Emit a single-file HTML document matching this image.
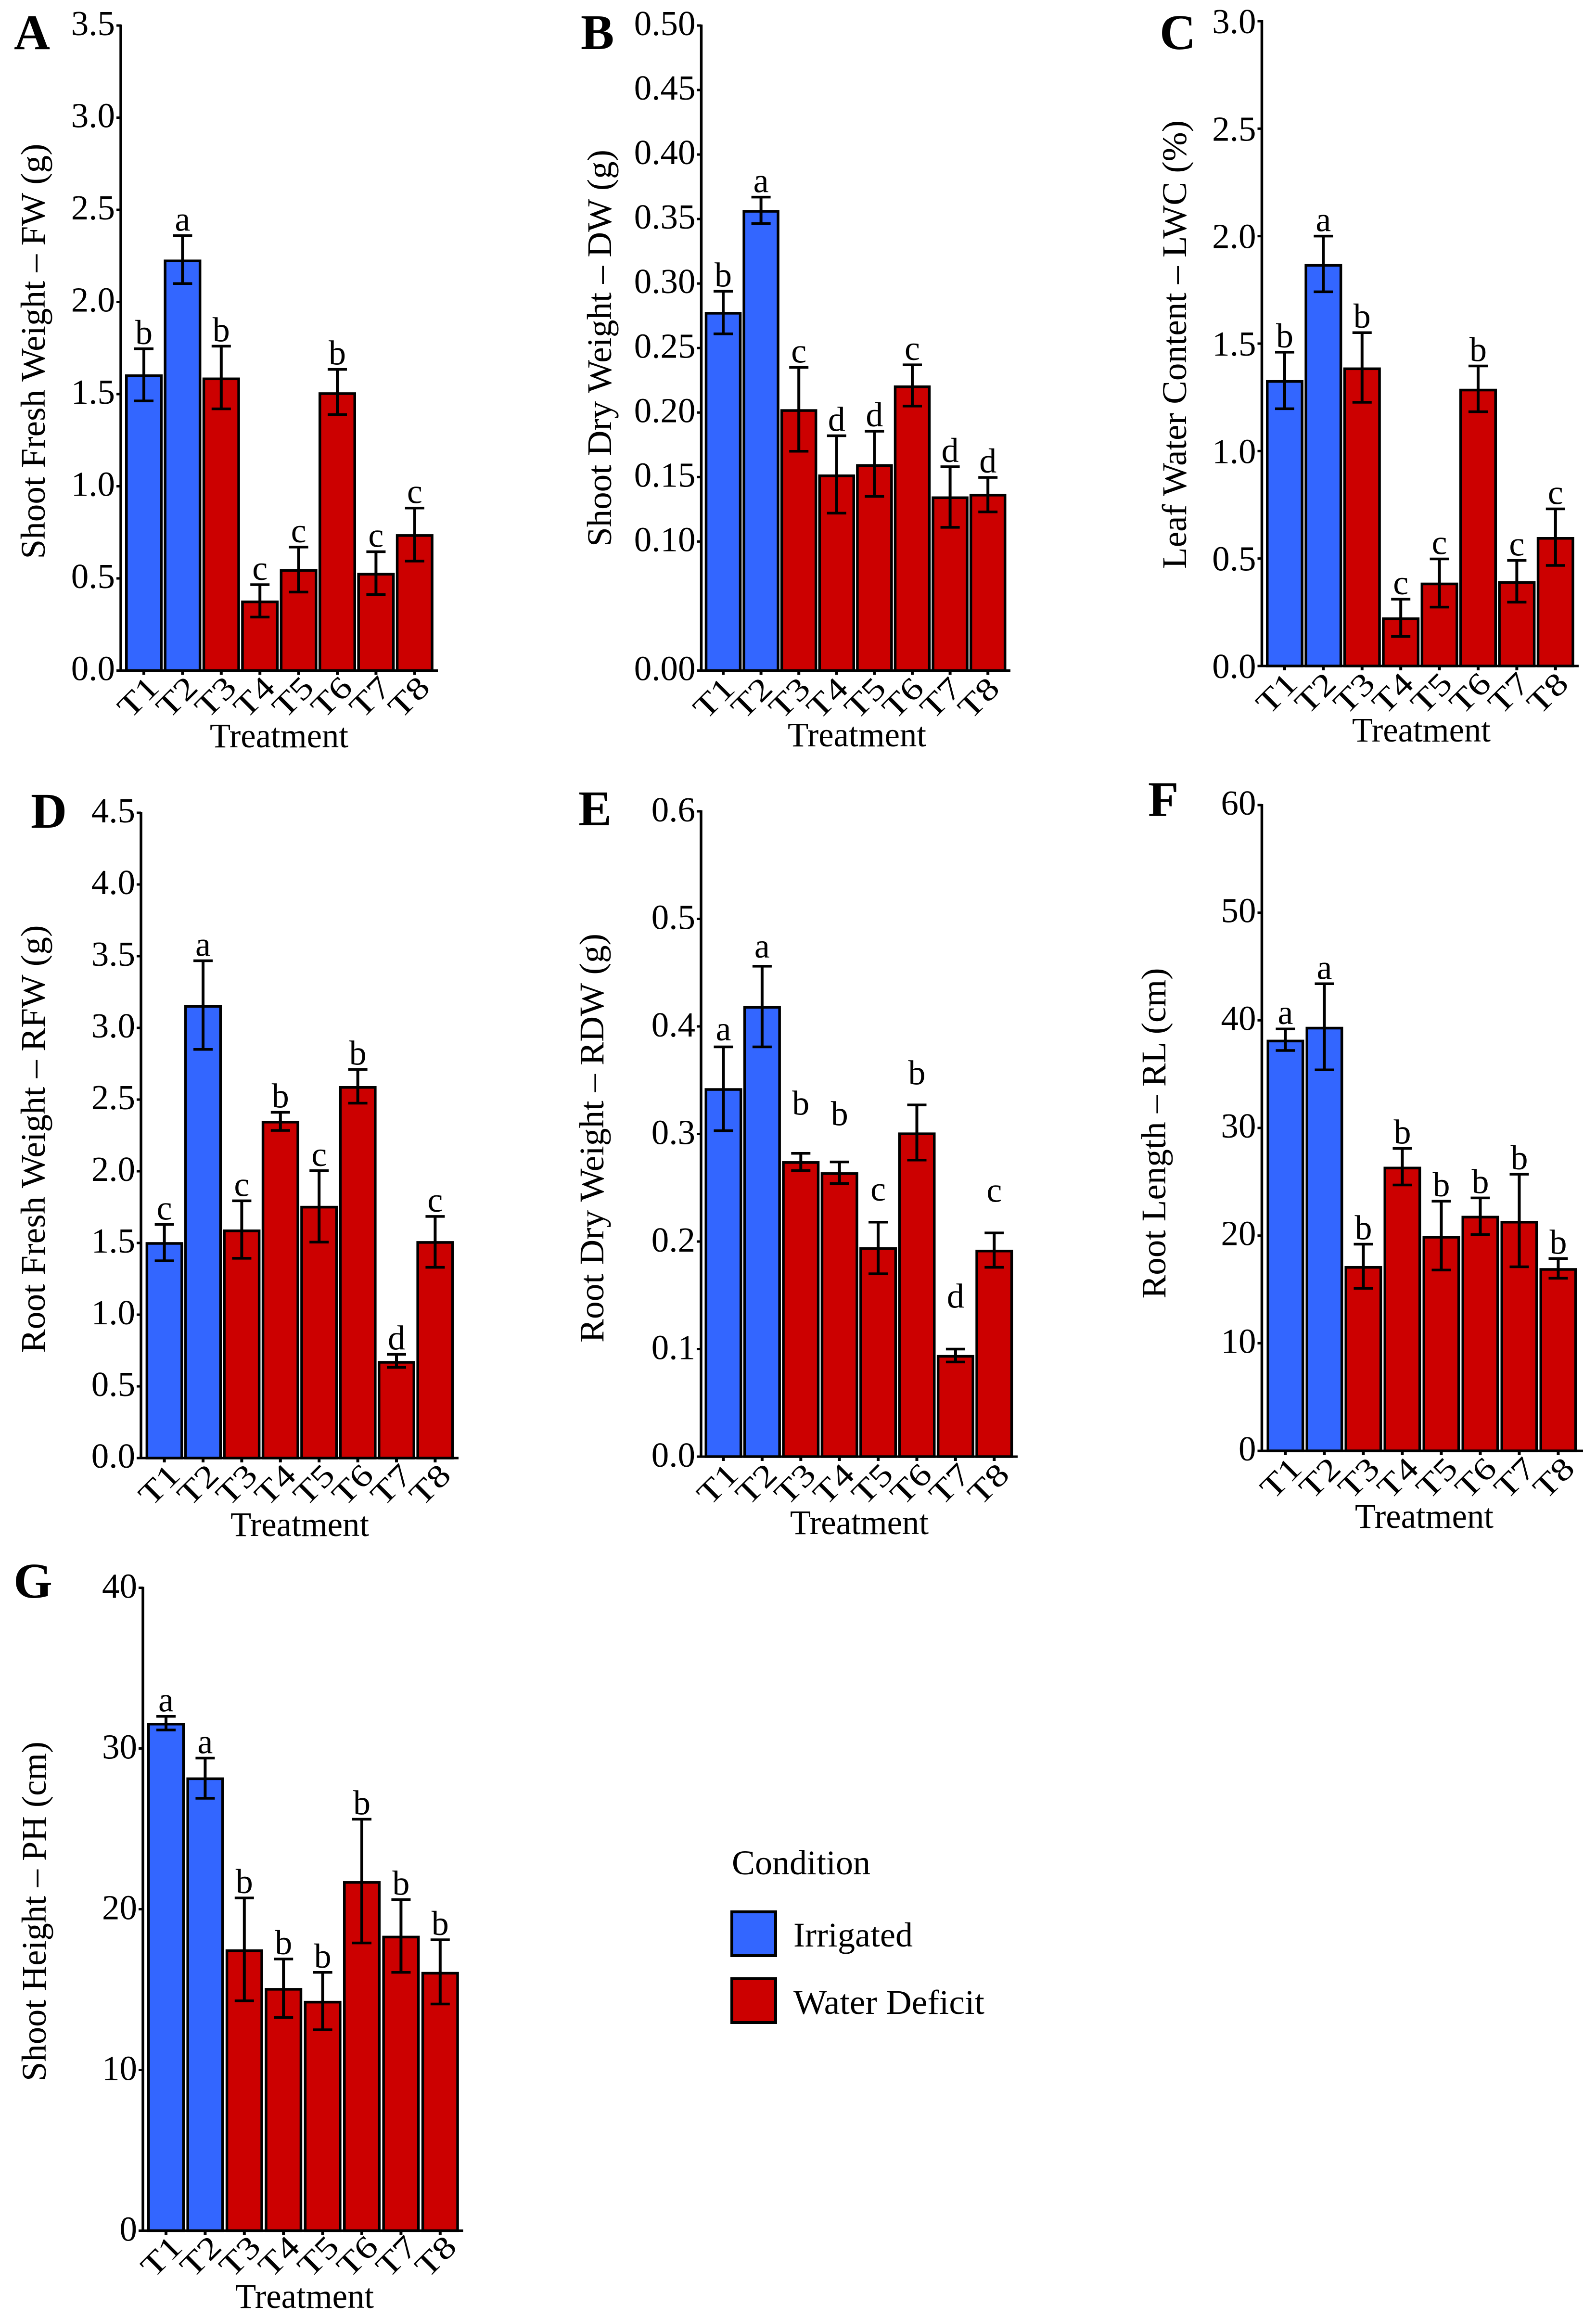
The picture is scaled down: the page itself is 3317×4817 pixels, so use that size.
<!DOCTYPE html>
<html lang="en">
<head>
<meta charset="utf-8">
<title>Treatment effects on plant traits</title>
<style>
html,body{margin:0;padding:0;background:#fff;}
svg{display:block;}
text{font-family:"Liberation Serif","Times New Roman",serif;fill:#000;}
</style>
</head>
<body>
<svg id="figure" xmlns="http://www.w3.org/2000/svg" width="3317" height="4817" viewBox="0 0 3317 4817">
<rect x="0" y="0" width="3317" height="4817" fill="#ffffff"/>
<g>
<text x="1521" y="3895" font-size="72" textLength="288" lengthAdjust="spacingAndGlyphs">Condition</text>
<rect x="1521" y="3973" width="91" height="91" fill="#3366FF" stroke="#000" stroke-width="6"/>
<text x="1649" y="4045" font-size="72" textLength="248" lengthAdjust="spacingAndGlyphs">Irrigated</text>
<rect x="1521" y="4112" width="91" height="91" fill="#CC0000" stroke="#000" stroke-width="6"/>
<text x="1649" y="4185" font-size="72" textLength="397" lengthAdjust="spacingAndGlyphs">Water Deficit</text>
</g>
</svg>
<script>
const categories = ["T1","T2","T3","T4","T5","T6","T7","T8"];
const conditions = ["Irrigated","Irrigated","Water Deficit","Water Deficit","Water Deficit","Water Deficit","Water Deficit","Water Deficit"];

const aMeans = [1.607,2.23,1.59,0.38,0.55,1.51,0.53,0.74];
const aUpper = [1.746,2.36,1.76,0.466,0.67,1.634,0.645,0.882];
const aLower = [1.463,2.10,1.42,0.29,0.426,1.389,0.413,0.594];
const aLetters = ["b","a","b","c","c","b","c","c"];
const aTicks = ["0.0","0.5","1.0","1.5","2.0","2.5","3.0","3.5"];

const bMeans = [0.278,0.357,0.2026,0.152,0.160,0.221,0.135,0.137];
const bUpper = [0.294,0.367,0.235,0.182,0.1855,0.237,0.158,0.1497];
const bLower = [0.261,0.3465,0.170,0.122,0.135,0.205,0.111,0.123];
const bLetters = ["b","a","c","d","d","c","d","d"];
const bTicks = ["0.00","0.10","0.15","0.20","0.25","0.30","0.35","0.40","0.45","0.50"];

const cMeans = [1.33,1.87,1.389,0.226,0.388,1.29,0.395,0.60];
const cUpper = [1.46,2.0,1.551,0.311,0.498,1.396,0.491,0.731];
const cLower = [1.197,1.741,1.227,0.137,0.274,1.183,0.297,0.468];
const cLetters = ["b","a","b","c","c","b","c","c"];
const cTicks = ["0.0","0.5","1.0","1.5","2.0","2.5","3.0"];

const dMeans = [1.506,3.159,1.594,2.352,1.759,2.594,0.677,1.513];
const dUpper = [1.629,3.468,1.794,2.411,2.004,2.71,0.723,1.685];
const dLower = [1.376,2.85,1.393,2.285,1.506,2.475,0.632,1.33];
const dLetters = ["c","a","c","b","c","b","d","c"];
const dTicks = ["0.0","0.5","1.0","1.5","2.0","2.5","3.0","3.5","4.0","4.5"];

const eMeans = [0.3426,0.419,0.2747,0.2644,0.1947,0.3014,0.0945,0.1924];
const eUpper = [0.381,0.456,0.282,0.274,0.218,0.327,0.100,0.208];
const eLower = [0.303,0.381,0.266,0.254,0.170,0.2757,0.088,0.176];
const eLetters = ["a","a","b","b","c","b","d","c"];
const eLetterHeights = [0.387,0.464,0.318,0.308,0.238,0.346,0.1385,0.237];
const eTicks = ["0.0","0.1","0.2","0.3","0.4","0.5","0.6"];

const fMeans = [38.2,39.4,17.17,26.4,19.97,21.84,21.37,16.98];
const fUpper = [39.2,43.4,19.2,28.1,23.2,23.5,25.7,17.87];
const fLower = [37.2,35.4,15.1,24.7,16.8,20.1,17.1,16.04];
const fLetters = ["a","a","b","b","b","b","b","b"];
const fTicks = ["0","10","20","30","40","50","60"];

const gMeans = [31.6,28.2,17.5,15.1,14.3,21.75,18.35,16.1];
const gUpper = [32.0,29.4,20.7,16.9,16.07,25.6,20.6,18.1];
const gLower = [31.15,26.9,14.3,13.26,12.5,17.9,16.07,14.1];
const gLetters = ["a","a","b","b","b","b","b","b"];
const gTicks = ["0","10","20","30","40"];

const NS = "http://www.w3.org/2000/svg";
const figure = document.getElementById("figure");
const fillFor = { "Irrigated": "#3366FF", "Water Deficit": "#CC0000" };

function svgEl(tag, attrs, parent) {
  const el = document.createElementNS(NS, tag);
  for (const k in attrs) el.setAttribute(k, attrs[k]);
  parent.appendChild(el);
  return el;
}

function drawPanel(p) {
  const panel = svgEl("g", {}, figure);
  
  

  const yScale = v => p.base - (v / p.yMax) * (p.base - p.top);
  const xScale = i => p.x0 + i * p.step;
  const barW = p.barW || 72.5;

  categories.forEach((cat, i) => {
    const cx = xScale(i);
    const yTop = yScale(p.means[i]);
    const bar = svgEl("rect", {
      x: cx - barW / 2, y: yTop + 2.75, width: barW, height: Math.max(0, p.base - yTop - 2.75),
      fill: fillFor[conditions[i]], stroke: "#000", "stroke-width": 5.5
    }, panel);
    
    

    const stem = svgEl("line", {
      x1: cx, x2: cx, y1: yScale(p.upper[i]), y2: yScale(p.lower[i]),
      stroke: "#000", "stroke-width": 6
    }, panel);
    
    

    const capTop = svgEl("line", {
      x1: cx - 20, x2: cx + 20, y1: yScale(p.upper[i]), y2: yScale(p.upper[i]),
      stroke: "#000", "stroke-width": 5.5
    }, panel);
    
    

    const capLow = svgEl("line", {
      x1: cx - 20, x2: cx + 20, y1: yScale(p.lower[i]), y2: yScale(p.lower[i]),
      stroke: "#000", "stroke-width": 5.5
    }, panel);
    
    

    const letterY = p.letterHeights ? yScale(p.letterHeights[i]) : yScale(p.upper[i]) - 10;
    const letter = svgEl("text", {
      x: cx, y: letterY, "text-anchor": "middle", "font-size": 72
    }, panel);
    letter.textContent = p.letters[i];
    
    

    const tick = svgEl("line", {
      x1: cx, x2: cx, y1: p.base, y2: p.base + 9, stroke: "#000", "stroke-width": 6
    }, panel);
    
    

    const ax = cx + p.labelDx, ay = p.base + p.labelDy;
    const label = svgEl("text", {
      x: 0, y: 0, "text-anchor": "middle", "font-size": 66,
      transform: "translate(" + ax + " " + ay + ") rotate(-45) scale(1.22 1)"
    }, panel);
    label.textContent = cat;
    
    
  });

  const yAxis = svgEl("line", {
    x1: p.axisX, x2: p.axisX, y1: p.top - 2, y2: p.base + 2.5, stroke: "#000", "stroke-width": 5.5
  }, panel);
  
  

  const xAxis = svgEl("line", {
    x1: p.axisX - 9, x2: p.xEnd, y1: p.base, y2: p.base, stroke: "#000", "stroke-width": 5
  }, panel);
  
  

  p.ticks.forEach(t => {
    const y = yScale(parseFloat(t));
    const tick = svgEl("line", {
      x1: p.axisX - 9, x2: p.axisX, y1: y, y2: y, stroke: "#000", "stroke-width": 5
    }, panel);
    
    

    const label = svgEl("text", {
      x: p.axisX - 12, y: y + p.tickDy, "text-anchor": "end", "font-size": 73
    }, panel);
    label.textContent = t;
    
    
  });

  const yTitle = svgEl("text", {
    x: p.yTitleX, y: p.yTitleY, "text-anchor": "middle", "font-size": 72,
    textLength: p.yTitleLen, lengthAdjust: "spacingAndGlyphs",
    transform: "rotate(-90 " + p.yTitleX + " " + p.yTitleY + ")"
  }, panel);
  yTitle.textContent = p.yTitle;
  
  

  const xTitle = svgEl("text", {
    x: p.xTitleX, y: p.xTitleY, "text-anchor": "middle", "font-size": 72,
    textLength: 288, lengthAdjust: "spacingAndGlyphs"
  }, panel);
  xTitle.textContent = "Treatment";
  
  

  const tag = svgEl("text", {
    x: p.tagX, y: p.tagY, "font-size": 104, "font-weight": "bold"
  }, panel);
  tag.textContent = p.id;
  
  
}

drawPanel({ id:"A", means:aMeans, upper:aUpper, lower:aLower, letters:aLetters, ticks:aTicks, yMax:3.5,
  axisX:251, top:53, base:1393.5, x0:299, step:80.4, xEnd:910, labelDx:3.5, labelDy:70.5, tickDy:20,
  yTitle:"Shoot Fresh Weight \u2013 FW (g)", yTitleX:93, yTitleY:730, yTitleLen:863,
  xTitleX:580, xTitleY:1553, tagX:29, tagY:102 });
drawPanel({ id:"B", means:bMeans, upper:bUpper, lower:bLower, letters:bLetters, ticks:bTicks, yMax:0.5, barW:71,
  axisX:1457.5, top:53, base:1393.5, x0:1503, step:78.6, xEnd:2100, labelDx:-4, labelDy:72.5, tickDy:20,
  yTitle:"Shoot Dry Weight \u2013 DW (g)", yTitleX:1270, yTitleY:723.5, yTitleLen:825,
  xTitleX:1781, xTitleY:1551, tagX:1207, tagY:102 });
drawPanel({ id:"C", means:cMeans, upper:cUpper, lower:cLower, letters:cLetters, ticks:cTicks, yMax:3,
  axisX:2622.5, top:44, base:1384, x0:2670, step:80.4, xEnd:3281, labelDx:-1.2, labelDy:72, tickDy:25,
  yTitle:"Leaf Water Content \u2013 LWC (%)", yTitleX:2465, yTitleY:716, yTitleLen:932,
  xTitleX:2954, xTitleY:1541, tagX:2410, tagY:102 });
drawPanel({ id:"D", means:dMeans, upper:dUpper, lower:dLower, letters:dLetters, ticks:dTicks, yMax:4.5,
  axisX:293, top:1689, base:3030, x0:341.6, step:80.4, xEnd:953, labelDx:4.6, labelDy:71, tickDy:20,
  yTitle:"Root Fresh Weight \u2013 RFW (g)", yTitleX:93, yTitleY:2367, yTitleLen:889,
  xTitleX:623, xTitleY:3192, tagX:64, tagY:1720 });
drawPanel({ id:"E", means:eMeans, upper:eUpper, lower:eLower, letters:eLetters, letterHeights:eLetterHeights, ticks:eTicks, yMax:0.6,
  axisX:1457, top:1686, base:3027, x0:1503.5, step:80.4, xEnd:2115, labelDx:3.3, labelDy:72.5, tickDy:21,
  yTitle:"Root Dry Weight \u2013 RDW (g)", yTitleX:1254, yTitleY:2365, yTitleLen:850,
  xTitleX:1786, xTitleY:3188, tagX:1202, tagY:1715 });
drawPanel({ id:"F", means:fMeans, upper:fUpper, lower:fLower, letters:fLetters, ticks:fTicks, yMax:60,
  axisX:2622.5, top:1673, base:3015, x0:2671.5, step:81, xEnd:3290, labelDx:6, labelDy:72, tickDy:20,
  yTitle:"Root Length \u2013 RL (cm)", yTitleX:2422, yTitleY:2355, yTitleLen:687,
  xTitleX:2960, xTitleY:3175, tagX:2386, tagY:1696 });
drawPanel({ id:"G", means:gMeans, upper:gUpper, lower:gLower, letters:gLetters, ticks:gTicks, yMax:40,
  axisX:297, top:3299.5, base:4635.5, x0:345, step:81.4, xEnd:962.5, labelDx:6, labelDy:69, tickDy:21,
  yTitle:"Shoot Height \u2013 PH (cm)", yTitleX:95, yTitleY:3972, yTitleLen:706,
  xTitleX:633, xTitleY:4796, tagX:28, tagY:3320 });
</script>
</body>
</html>
